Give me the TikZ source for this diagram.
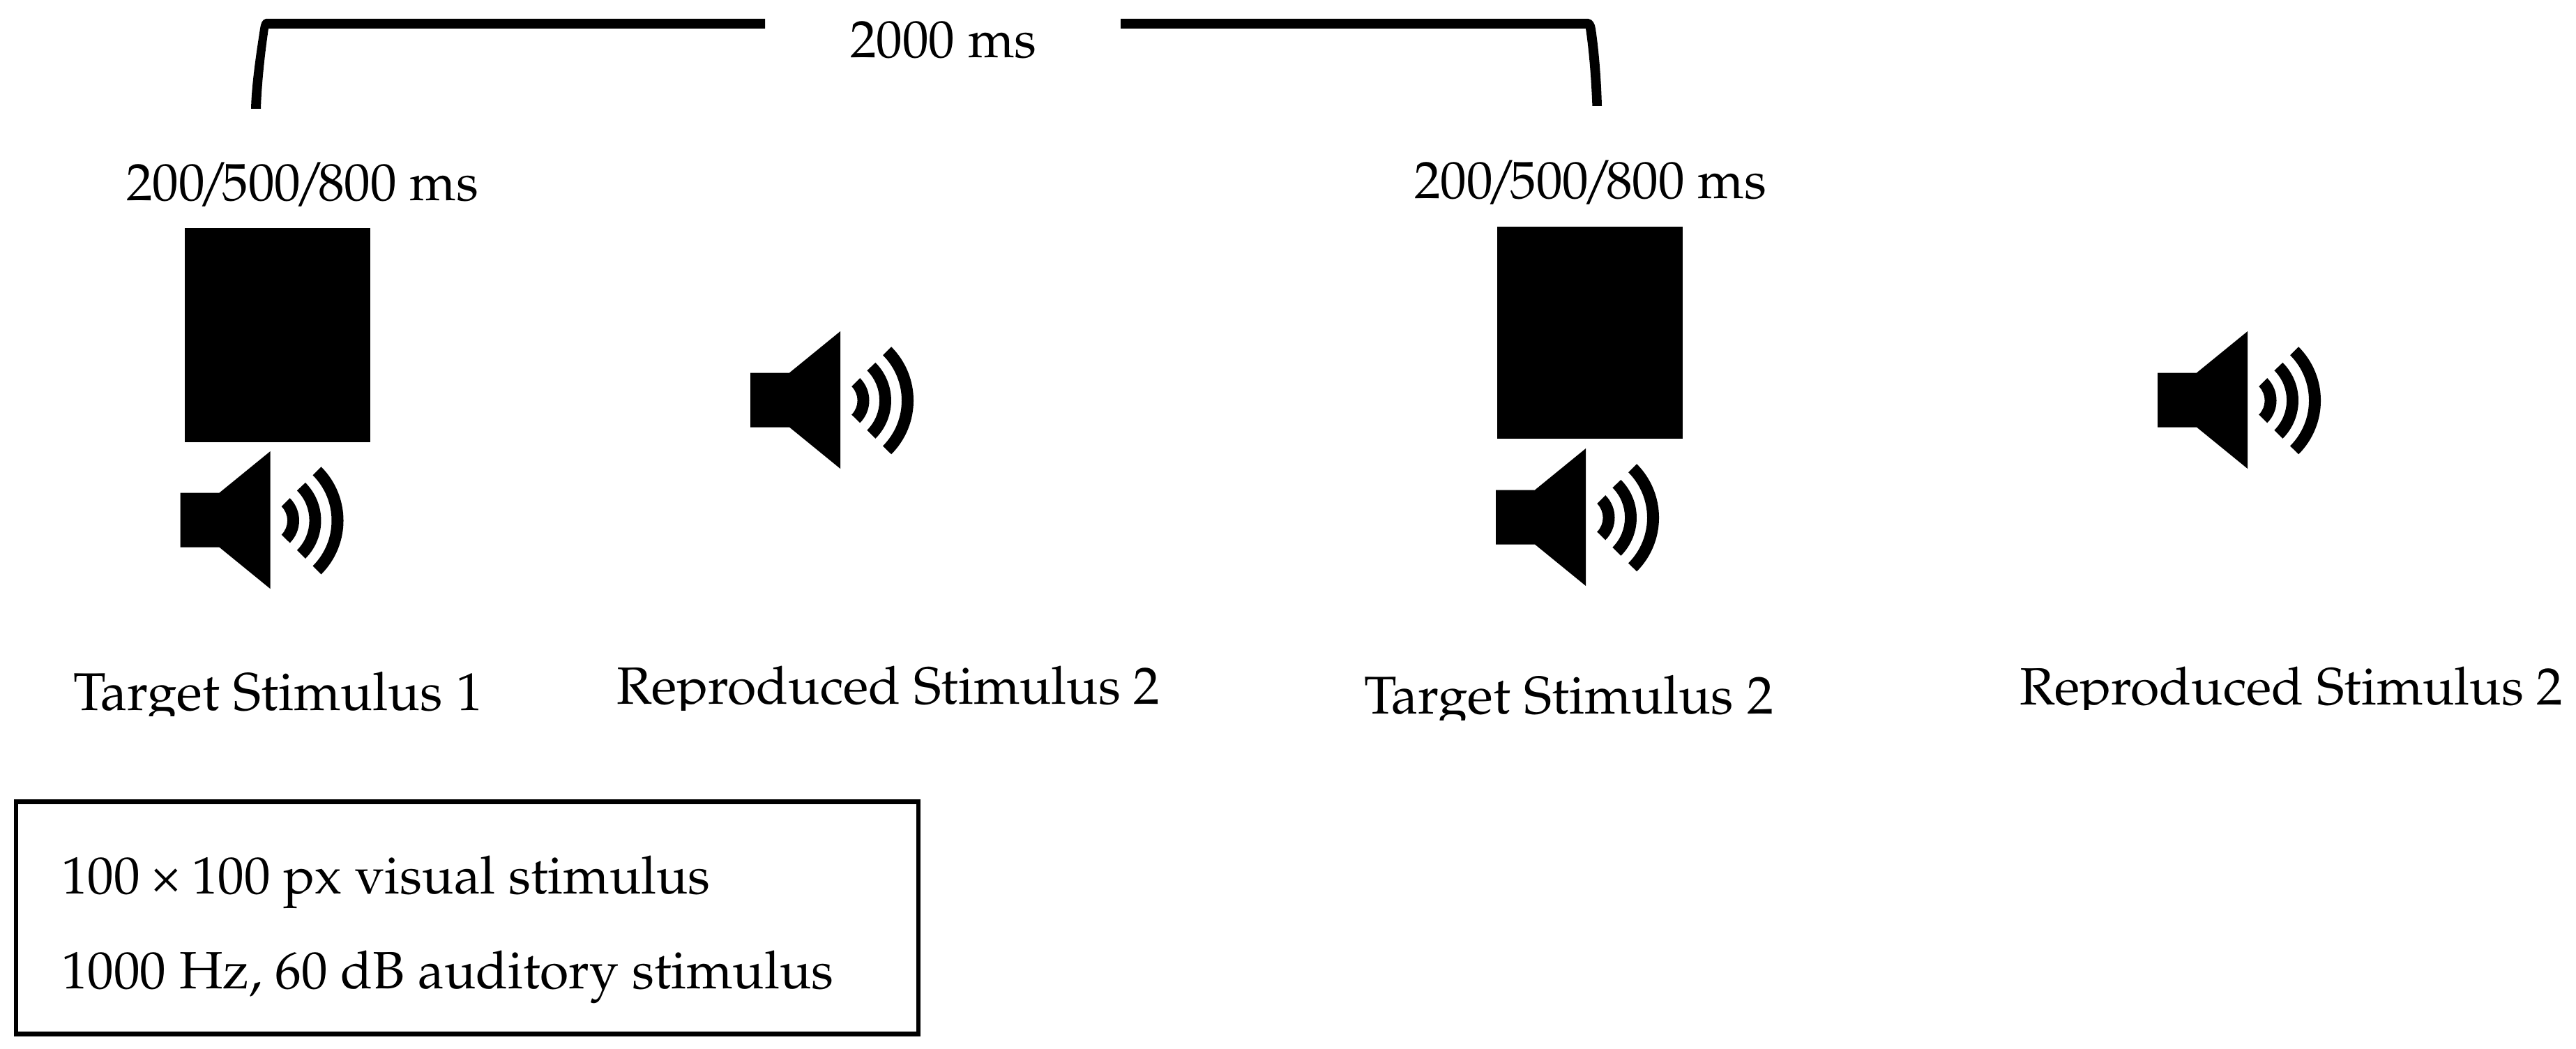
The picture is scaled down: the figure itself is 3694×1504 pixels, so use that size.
\documentclass[tikz,border=0pt]{standalone}
\usepackage[T1]{fontenc}
\usepackage{mathpazo}
\tikzset{
  lbl/.style={anchor=base west,inner sep=0pt,outer sep=0pt,font=\fontsize{37.6}{44}\selectfont,text=black},
  lblwide/.style={lbl,font=\fontsize{38.1}{44}\selectfont},
  blockrect/.style={fill=black,draw=none},
  legendbox/.style={draw=black,line width=3.3pt,fill=none},
  speaker/.pic={
    \fill[black] (-129,-39) -- (-73,-39) -- (0,-98.5) -- (0,98.5) -- (-73,39) -- (-129,39) -- cycle;
    \fill[black] (73.1,-76.3) arc[start angle=45,end angle=-45,radius=54.5pt] -- (61.05,65.85) arc[start angle=-45,end angle=45,radius=46pt] -- cycle;
    \fill[black] (50.4,-53.6) arc[start angle=45,end angle=-45,radius=38.5pt] -- (38.4,43.2) arc[start angle=-45,end angle=45,radius=30.2pt] -- cycle;
    \fill[black] (28.2,-31.4) arc[start angle=45,end angle=-45,radius=22.7pt] -- (16.2,21) arc[start angle=-45,end angle=45,radius=14.3pt] -- cycle;
  }
}
\newcommand{\tslash}{\kern-5.2pt/\kern-5.2pt}
\newcommand{\cliplabel}[6]{\begin{scope}\clip (#2-20,#3-80) rectangle (#2+850,#4);\node[#6] (#1) at (#2,#3) {#5};\end{scope}}
\begin{document}
\begin{tikzpicture}[x=0.5pt,y=-0.5pt]
\useasboundingbox (0,0) rectangle (3694,1504);
% brackets
\fill[black] (1097,27) -- (381,27) .. controls (376,28) and (374,34) .. (373,41) .. controls (367,80) and (361,120) .. (360,156) -- (374,156) .. controls (375,120) and (380,75) .. (385,41) -- (1097,41) -- cycle;
\fill[black] (1607,27) -- (2278,27) .. controls (2284,28) and (2287,34) .. (2288,41) .. controls (2293,75) and (2296,115) .. (2297,152) -- (2283.4,152) .. controls (2282,115) and (2279,75) .. (2274,41) -- (1607,41) -- cycle;
% labels at top
\node[lbl] (t2000) at (1219,83) {2000 ms};
\node[lbl] (dur1) at (181,287) {200\tslash 500\tslash 800 ms};
\node[lbl] (dur2) at (2028,284) {200\tslash 500\tslash 800 ms};
% visual stimuli
\path[blockrect] (265,327) rectangle (531,634);
\path[blockrect] (2147,325) rectangle (2413,629);
% speakers
\pic (sp1) at (387.5,745.6) {speaker};
\pic (sp2) at (1205,573.5) {speaker};
\pic (sp3) at (2274,741.5) {speaker};
\pic (sp4) at (3223,573.5) {speaker};
% captions
\cliplabel{c1}{105}{1018}{1026}{Target Stimulus 1}{lblwide}
\cliplabel{c2}{884}{1009}{1018}{Reproduced Stimulus 2}{lbl}
\cliplabel{c3}{1956}{1023}{1032}{Target Stimulus 2}{lblwide}
\cliplabel{c4}{2896}{1010}{1017}{Reproduced Stimulus 2}{lbl}
% legend
\path[legendbox] (23,1149.5) rectangle (1317,1482.5);
\node[lbl] (l1) at (88,1281) {100\kern-2.2pt\ \texttimes\kern-2.2pt\ 100 px visual stimulus};
\node[lbl] (l2) at (88,1417) {1000 Hz, 60 dB auditory stimulus};
\end{tikzpicture}
\end{document}
